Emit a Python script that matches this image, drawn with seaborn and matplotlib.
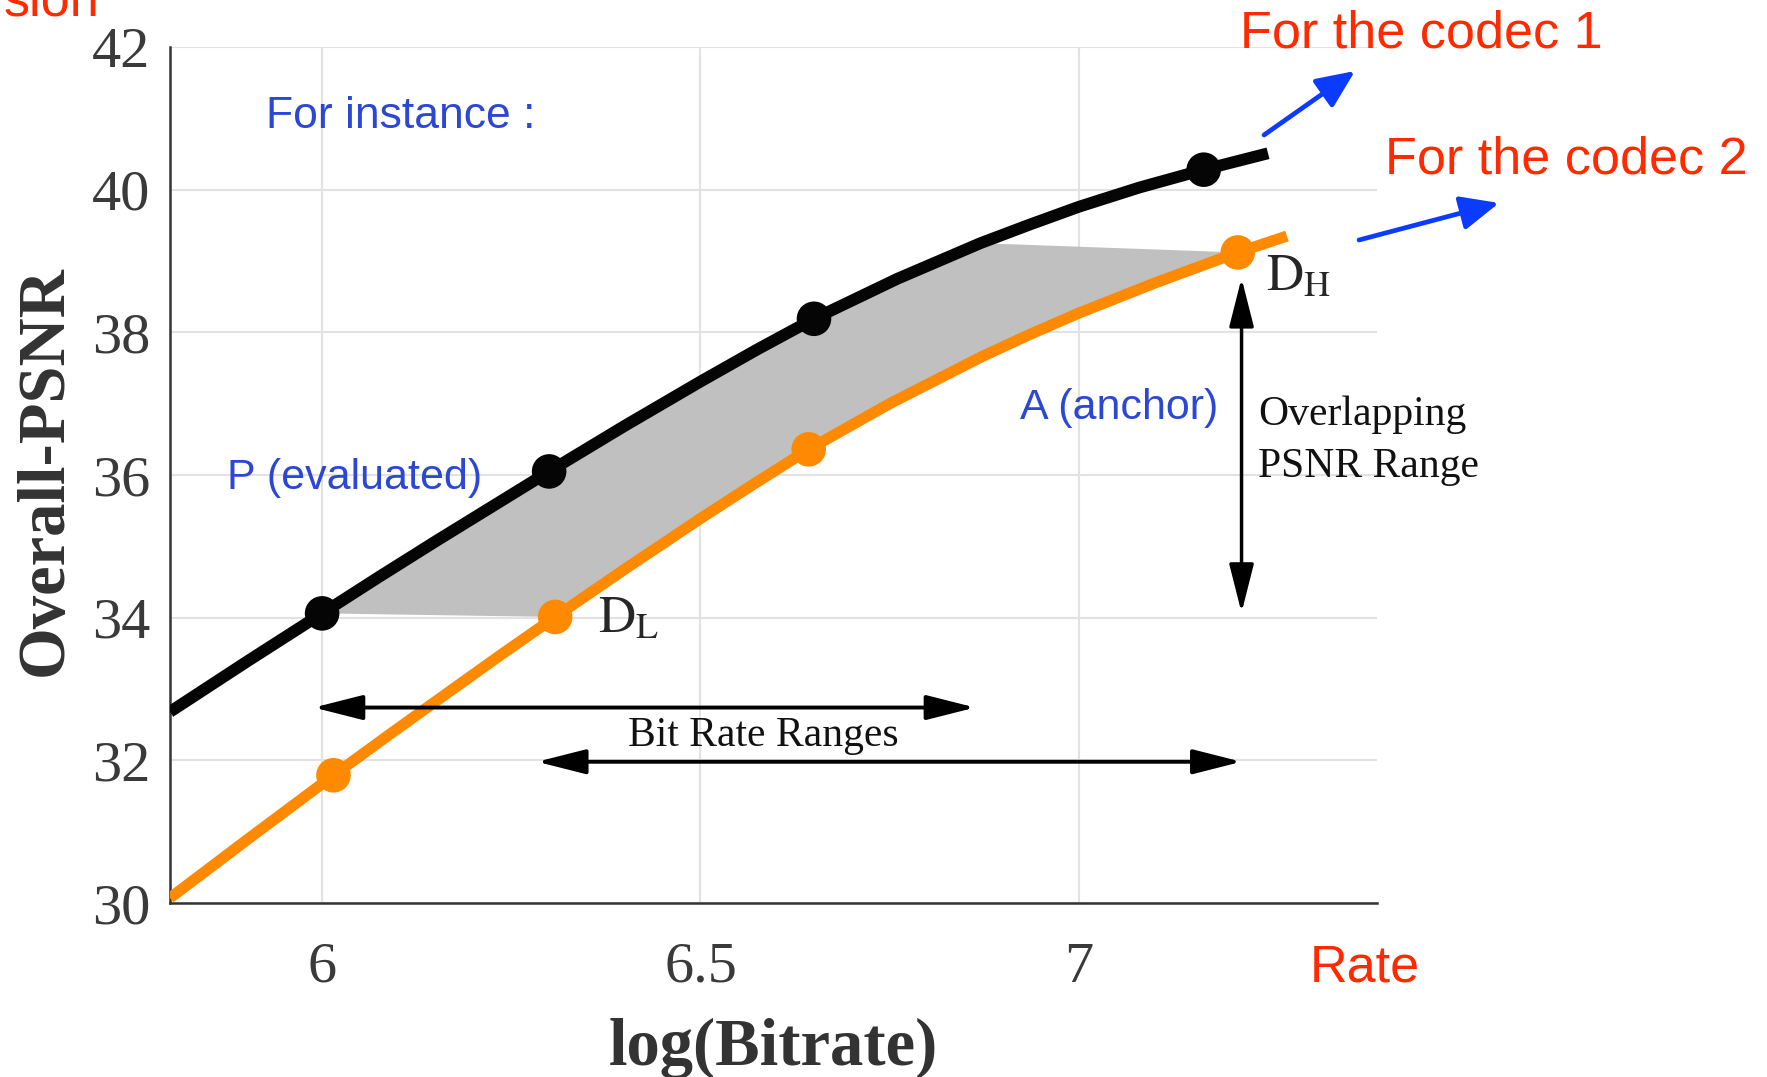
import numpy as np
import pandas as pd
import matplotlib.pyplot as plt
import seaborn as sns
from matplotlib.patches import FancyArrowPatch

# RD curves: log(Bitrate) vs Overall-PSNR
black_x = [5.799, 5.9, 6.0, 6.075, 6.15, 6.225, 6.3, 6.4, 6.5, 6.575, 6.65,
           6.76, 6.87, 6.935, 7.0, 7.08, 7.165, 7.25]
black_y = [32.68, 33.38, 34.06, 34.57, 35.07, 35.56, 36.05, 36.69, 37.31, 37.76, 38.19,
           38.75, 39.25, 39.51, 39.76, 40.03, 40.28, 40.51]
orange_x = [5.799, 5.9, 6.015, 6.09, 6.165, 6.235, 6.308, 6.4, 6.5, 6.57, 6.643,
            6.75, 6.87, 6.935, 7.0, 7.1, 7.21, 7.275]
orange_y = [30.07, 30.88, 31.79, 32.37, 32.94, 33.47, 34.01, 34.68, 35.39, 35.87, 36.36,
            37.00, 37.65, 37.97, 38.27, 38.69, 39.12, 39.35]
# indices of the measured rate points on each curve
black_pts = [2, 6, 10, 16]
orange_pts = [2, 6, 10, 16]

x_ticks = [6, 6.5, 7]
x_ticklabels = ["6", "6.5", "7"]
y_ticks = [30, 32, 34, 36, 38, 40, 42]

# bit rate range of each codec (from, to) and the overlapping PSNR range (hi, lo)
range_p = [5.989, 6.863]
range_a = [6.284, 7.215]
psnr_overlap = [38.76, 34.07]

BLACK = "#050505"
ORANGE = "#FF8A00"
BLUE = "#2B47D4"
RED = "#FF2A00"
ARROW_BLUE = "#0B3BFF"

sns.set_theme(style="white")
plt.rcParams["font.family"] = ["Liberation Serif", "DejaVu Serif"]
plt.rcParams["mathtext.fontset"] = "stix"

W, H = 1767, 1077
fig = plt.figure(figsize=(W / 100, H / 100), dpi=100)
ax = fig.add_axes([170 / W, 1 - 903 / H, 1207 / W, 856 / H])

df_p = pd.DataFrame({"rate": black_x, "psnr": black_y})
df_a = pd.DataFrame({"rate": orange_x, "psnr": orange_y})

# gray overlap area: black curve from P(6.0) up to D_H level, back down the orange curve to D_L
fill_x = black_x[2:13] + orange_x[16:5:-1]
fill_y = black_y[2:13] + orange_y[16:5:-1]
ax.fill(fill_x, fill_y, color="#c0c0c0", lw=0, zorder=1)

sns.lineplot(data=df_p, x="rate", y="psnr", sort=False, estimator=None, color=BLACK,
             linewidth=8.5, ax=ax, zorder=3, solid_capstyle="butt")
sns.lineplot(data=df_a, x="rate", y="psnr", sort=False, estimator=None, color=ORANGE,
             linewidth=8, ax=ax, zorder=3, solid_capstyle="butt")
sns.scatterplot(data=df_p.iloc[black_pts], x="rate", y="psnr", color=BLACK, s=620,
                edgecolor="none", ax=ax, zorder=4)
sns.scatterplot(data=df_a.iloc[orange_pts], x="rate", y="psnr", color=ORANGE, s=620,
                edgecolor="none", ax=ax, zorder=4)

ax.set_xlim(5.799, 7.394)
ax.set_ylim(30, 42)
ax.set_xticks(x_ticks)
ax.set_xticklabels(x_ticklabels)
ax.set_yticks(y_ticks)
ax.grid(True, color="#e2e2e2", lw=1.5)
ax.set_axisbelow(True)
sns.despine(ax=ax)
for s in ["left", "bottom"]:
    ax.spines[s].set_color("#333333")
    ax.spines[s].set_linewidth(1.8)
ax.tick_params(axis="both", direction="in", length=6, width=1.8, color="#333333",
               labelsize=42, labelcolor="#3a3a3a")
ax.tick_params(axis="x", pad=28)
ax.tick_params(axis="y", pad=14)

ax.set_xlabel("log(Bitrate)", fontsize=48, fontweight="bold", color="#333333")
ax.set_ylabel("Overall-PSNR", fontsize=48, fontweight="bold", color="#333333")
ax.xaxis.set_label_coords(0.5, -0.134)
ax.yaxis.set_label_coords(-0.078, 0.505)

# range arrows
arrow_kw = dict(arrowstyle="<|-|>,head_length=1.5,head_width=0.38", mutation_scale=20,
                color="black", lw=2.8, shrinkA=0, shrinkB=0, zorder=5)
ax.add_patch(FancyArrowPatch((range_p[0], 32.74), (range_p[1], 32.74), **arrow_kw))
ax.add_patch(FancyArrowPatch((range_a[0], 31.98), (range_a[1], 31.98), **arrow_kw))
ax.add_patch(FancyArrowPatch((range_a[1], psnr_overlap[0]), (range_a[1], psnr_overlap[1]),
                             **dict(arrow_kw, lw=2.5)))

ax.text(6.583, 32.20, "Bit Rate Ranges", fontsize=30, ha="center", va="baseline", color="#111111")
ax.text(7.2365, 36.70, "Overlapping", fontsize=30, ha="left", va="baseline", color="#111111")
ax.text(7.2365, 35.977, "PSNR Range", fontsize=30, ha="left", va="baseline", color="#111111")
ax.text(6.365, 33.80, r"$\mathrm{D}_{\mathrm{L}}$", fontsize=37, ha="left", va="baseline")
ax.text(7.247, 38.59, r"$\mathrm{D}_{\mathrm{H}}$", fontsize=37, ha="left", va="baseline")

sans = ["Liberation Sans", "DejaVu Sans"]
ax.text(5.926, 40.865, "For instance :", fontsize=32, color=BLUE, family=sans, va="baseline")
ax.text(5.874, 35.80, "P (evaluated)", fontsize=31, color=BLUE, family=sans, va="baseline")
ax.text(7.184, 36.785, "A (anchor)", fontsize=31, color=BLUE, family=sans, va="baseline", ha="right")

# red notes outside the axes (figure pixel positions)
fig.text(4 / W, 1 - 15 / H, "sion", fontsize=37.5, color=RED, family=sans, va="baseline")
fig.text(1240 / W, 1 - 48 / H, "For the codec 1", fontsize=37.5, color=RED, family=sans, va="baseline")
fig.text(1385 / W, 1 - 173 / H, "For the codec 2", fontsize=37.5, color=RED, family=sans, va="baseline")
fig.text(1310 / W, 1 - 981 / H, "Rate", fontsize=37.5, color=RED, family=sans, va="baseline")

blue_kw = dict(arrowstyle="-|>,head_length=0.9,head_width=0.4", mutation_scale=26,
               color=ARROW_BLUE, lw=3.4, shrinkA=0, shrinkB=0, transform=fig.transFigure)
fig.add_artist(FancyArrowPatch((1264 / W, 1 - 135 / H), (1355 / W, 1 - 71 / H), **blue_kw))
fig.add_artist(FancyArrowPatch((1359 / W, 1 - 240 / H), (1499 / W, 1 - 203 / H), **blue_kw))

fig.savefig("out.png", dpi=100)
